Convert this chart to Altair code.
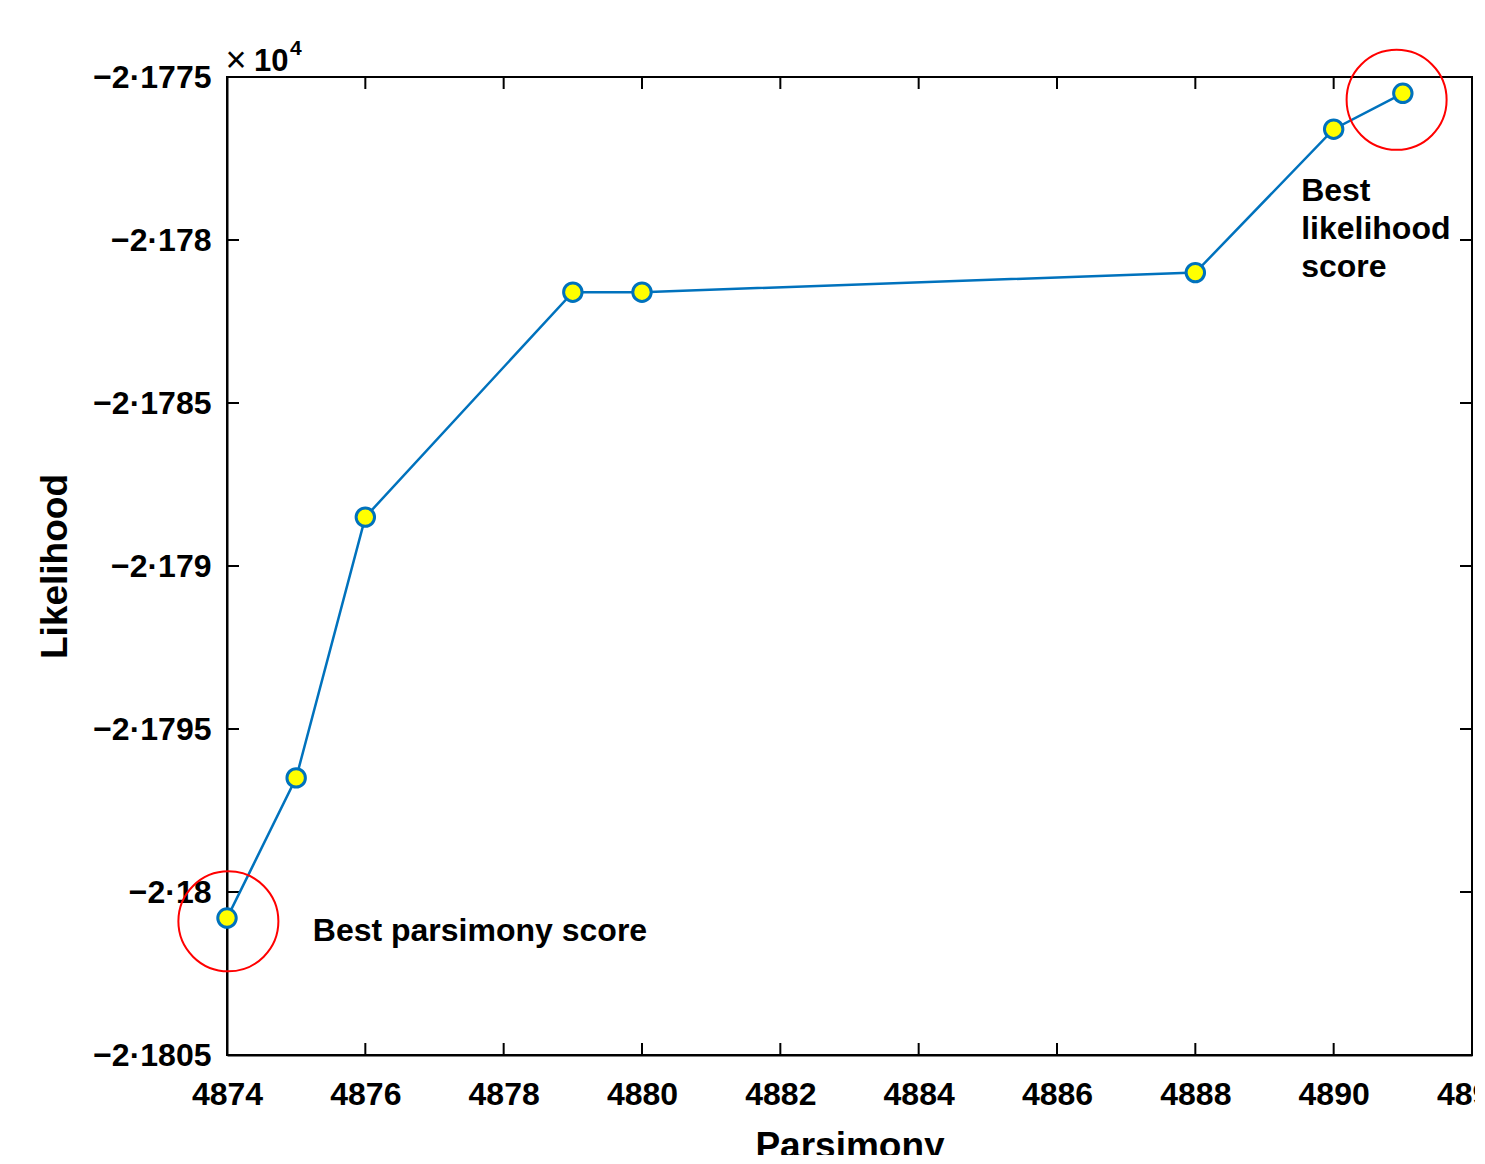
import altair as alt
import pandas as pd

# Data (likelihood shown in units of 10^4, as on the axis)
parsimony = [4874, 4875, 4876, 4879, 4880, 4888, 4890, 4891]
likelihood = [-2.18008, -2.17965, -2.17885, -2.17816, -2.17816, -2.17810, -2.17766, -2.17755]

x_ticks = [4874, 4876, 4878, 4880, 4882, 4884, 4886, 4888, 4890, 4892]
y_ticks = [-2.1775, -2.178, -2.1785, -2.179, -2.1795, -2.18, -2.1805]

highlight_x = [4874.02, 4890.91]
highlight_y = [-2.18009, -2.17757]

ann_text = ["Best parsimony score", "Best\nlikelihood\nscore"]
ann_x = [4875.24, 4889.53]
ann_y = [-2.18012, -2.17785]

W, H = 1245, 978
FONT = "Liberation Sans"

df = pd.DataFrame({"Parsimony": parsimony, "Likelihood": likelihood})
xt = pd.DataFrame({"v": x_ticks})
yt = pd.DataFrame({"v": y_ticks})
hl = pd.DataFrame({"x": highlight_x, "y": highlight_y})
ann = pd.DataFrame({"t": ann_text, "x": ann_x, "y": ann_y})
one = pd.DataFrame({"a": [0]})

xscale = alt.Scale(domain=[4874, 4892], nice=False, zero=False)
yscale = alt.Scale(domain=[-2.1805, -2.1775], nice=False, zero=False)

xaxis = alt.Axis(
    values=x_ticks, format="d", ticks=False, grid=False,
    labelFont=FONT, labelFontSize=32, labelFontWeight="bold", labelColor="black",
    labelPadding=24, labelOverlap=False, labelFlush=False,
    domainColor="black", domainWidth=2,
    title="Parsimony", titleFont=FONT, titleFontSize=37, titleFontWeight="bold",
    titleColor="black", titlePadding=18,
)
yaxis = alt.Axis(
    values=y_ticks, ticks=False, grid=False,
    labelExpr="replace(format(datum.value, '.4~f'), '.', '\u00b7')",
    labelFont=FONT, labelFontSize=32, labelFontWeight="bold", labelColor="black",
    labelPadding=16, labelOverlap=False, labelFlush=False,
    domainColor="black", domainWidth=2,
    title="Likelihood", titleFont=FONT, titleFontSize=37, titleFontWeight="bold",
    titleColor="black", titlePadding=18,
)

base_line = alt.Chart(df).mark_line(color="#0072BD", strokeWidth=2.5).encode(
    x=alt.X("Parsimony:Q", scale=xscale, axis=xaxis),
    y=alt.Y("Likelihood:Q", scale=yscale, axis=yaxis),
)

pts = alt.Chart(df).mark_point(
    filled=True, fill="#FFFF00", stroke="#0072BD", strokeWidth=3, size=340, opacity=1
).encode(
    x=alt.X("Parsimony:Q", scale=xscale),
    y=alt.Y("Likelihood:Q", scale=yscale),
)

circles = alt.Chart(hl).mark_point(
    shape="circle", filled=False, stroke="#FF0000", strokeWidth=2, size=10000, opacity=1
).encode(
    x=alt.X("x:Q", scale=xscale),
    y=alt.Y("y:Q", scale=yscale),
)

texts = alt.Chart(ann).mark_text(
    align="left", baseline="middle", font=FONT, fontSize=32, fontWeight="bold",
    color="black", lineBreak="\n", lineHeight=38
).encode(
    x=alt.X("x:Q", scale=xscale),
    y=alt.Y("y:Q", scale=yscale),
    text="t:N",
)

tick_bottom = alt.Chart(xt).mark_rule(color="black", strokeWidth=2).encode(
    x=alt.X("v:Q", scale=xscale), y=alt.value(H), y2=alt.value(H - 12))
tick_top = alt.Chart(xt).mark_rule(color="black", strokeWidth=2).encode(
    x=alt.X("v:Q", scale=xscale), y=alt.value(0), y2=alt.value(12))
tick_left = alt.Chart(yt).mark_rule(color="black", strokeWidth=2).encode(
    y=alt.Y("v:Q", scale=yscale), x=alt.value(0), x2=alt.value(12))
tick_right = alt.Chart(yt).mark_rule(color="black", strokeWidth=2).encode(
    y=alt.Y("v:Q", scale=yscale), x=alt.value(W), x2=alt.value(W - 12))

times = alt.Chart(one).mark_text(
    text="\u00d7", font=FONT, fontSize=36, align="center", baseline="alphabetic", color="black"
).encode(x=alt.value(9), y=alt.value(-5))
ten = alt.Chart(one).mark_text(
    text="10", font=FONT, fontSize=31, fontWeight="bold", align="left", baseline="alphabetic", color="black"
).encode(x=alt.value(27), y=alt.value(-6))
four = alt.Chart(one).mark_text(
    text="4", font=FONT, fontSize=21, fontWeight="bold", align="left", baseline="alphabetic", color="black"
).encode(x=alt.value(63), y=alt.value(-22))

chart = alt.layer(
    tick_bottom, tick_top, tick_left, tick_right,
    base_line, pts, circles, texts, times, ten, four,
).properties(
    width=W, height=H,
    autosize=alt.AutoSizeParams(type="none"),
    padding={"left": 219, "top": 69, "right": 3, "bottom": 100},
    background="white",
).configure_view(
    stroke="black", strokeWidth=2
)

chart.save("out.html", embed_options={"renderer": "svg", "actions": False})
